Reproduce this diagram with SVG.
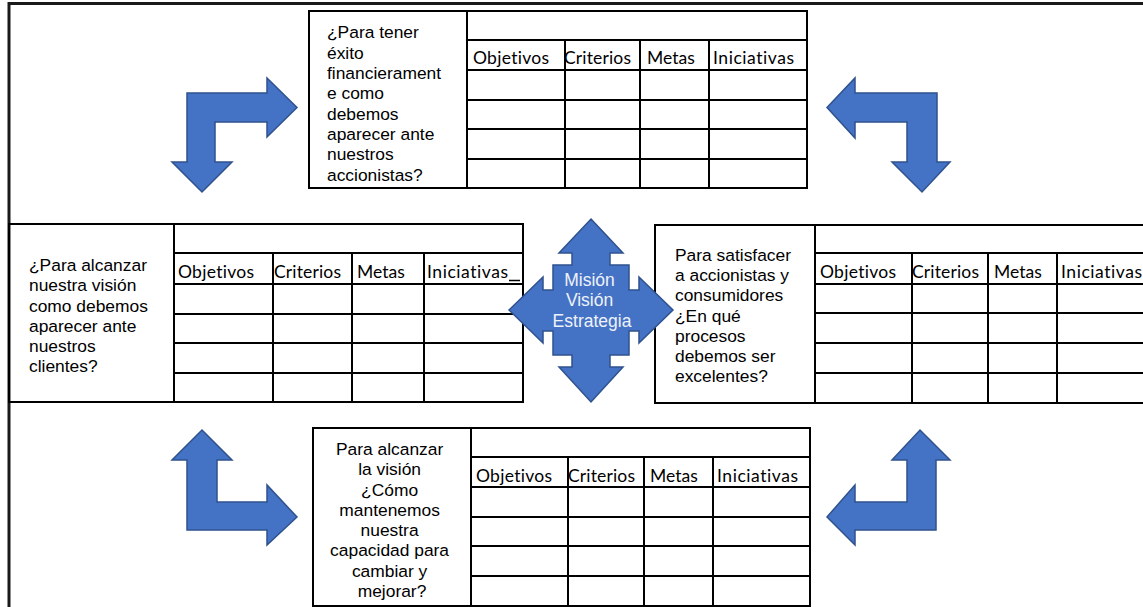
<svg xmlns="http://www.w3.org/2000/svg" width="1143" height="607" viewBox="0 0 1143 607">
  <style>
    .grid { fill: none; stroke: #000; stroke-width: 2; }
    .frame { fill: none; stroke: #1a1a1a; stroke-width: 3; }
    .q { font-family: "Liberation Sans", Arial, sans-serif; font-size: 17.4px; fill: #000; }
    .h { font-family: Lato, "Open Sans", sans-serif; font-size: 17.5px; fill: #000; font-variant-ligatures: none; }
    .arrow { fill: #4472C4; stroke: #2F528F; stroke-width: 1.5; stroke-linejoin: miter; }
    .core { font-family: "Liberation Sans", Arial, sans-serif; font-size: 17.5px; fill: #EEF2FA; text-anchor: middle; }
  </style>

  <rect width="1143" height="607" fill="#fff"/>

  <!-- outer frame: top edge and left edge -->
  <path class="frame" d="M9 607 V3.5 H1143"/>

  <!-- financial perspective -->
  <g id="financiera">
    <rect class="grid" x="309" y="11" width="498" height="177"/>
    <path class="grid" d="M467 11 V188 M467 40 H807 M467 70 H807 M467 100 H807 M467 129 H807 M467 159 H807 M565 40 V188 M640 40 V188 M709 40 V188"/>
    <text class="q">
      <tspan x="327" y="38">¿Para tener</tspan>
      <tspan x="327" y="58.5">éxito</tspan>
      <tspan x="327" y="79">financierament</tspan>
      <tspan x="327" y="99">e como</tspan>
      <tspan x="327" y="119.5">debemos</tspan>
      <tspan x="327" y="140">aparecer ante</tspan>
      <tspan x="327" y="160">nuestros</tspan>
      <tspan x="327" y="180.5">accionistas?</tspan>
    </text>
    <text class="h" x="473" y="64" textLength="76">Objetivos</text>
    <text class="h" x="564" y="64" textLength="67">Criterios</text>
    <text class="h" x="647" y="64">Metas</text>
    <text class="h" x="713" y="64" textLength="81">Iniciativas</text>
  </g>

  <!-- customer perspective -->
  <g id="clientes">
    <rect class="grid" x="9" y="224" width="514" height="178"/>
    <path class="grid" d="M174 224 V402 M174 253 H523 M174 284 H523 M174 314 H523 M174 343 H523 M174 373 H523 M273 253 V402 M352 253 V402 M424 253 V402"/>
    <path d="M509 280.5 H520" stroke="#000" stroke-width="1.5"/>
    <text class="q">
      <tspan x="29" y="271">¿Para alcanzar</tspan>
      <tspan x="29" y="291">nuestra visión</tspan>
      <tspan x="29" y="311.5">como debemos</tspan>
      <tspan x="29" y="331.5">aparecer ante</tspan>
      <tspan x="29" y="351.5">nuestros</tspan>
      <tspan x="29" y="372">clientes?</tspan>
    </text>
    <text class="h" x="178" y="278" textLength="76">Objetivos</text>
    <text class="h" x="274" y="278" textLength="67">Criterios</text>
    <text class="h" x="357" y="278">Metas</text>
    <text class="h" x="427" y="278" textLength="81">Iniciativas</text>
  </g>

  <!-- internal process perspective -->
  <g id="procesos">
    <rect class="grid" x="655" y="225" width="500" height="178"/>
    <path class="grid" d="M815 225 V403 M815 253 H1150 M815 284 H1150 M815 313 H1150 M815 343 H1150 M815 373 H1150 M912 253 V403 M988 253 V403 M1057 253 V403"/>
    <text class="q">
      <tspan x="675" y="261">Para satisfacer</tspan>
      <tspan x="675" y="281">a accionistas y</tspan>
      <tspan x="675" y="301">consumidores</tspan>
      <tspan x="675" y="321.5">¿En qué</tspan>
      <tspan x="675" y="341.5">procesos</tspan>
      <tspan x="675" y="361.5">debemos ser</tspan>
      <tspan x="675" y="382">excelentes?</tspan>
    </text>
    <text class="h" x="820" y="278" textLength="76">Objetivos</text>
    <text class="h" x="912" y="278" textLength="67">Criterios</text>
    <text class="h" x="994" y="278">Metas</text>
    <text class="h" x="1061" y="278" textLength="81">Iniciativas</text>
  </g>

  <!-- learning and growth perspective -->
  <g id="aprendizaje">
    <rect class="grid" x="313" y="428" width="497" height="178"/>
    <path class="grid" d="M471 428 V606 M471 457 H810 M471 487 H810 M471 517 H810 M471 546 H810 M471 576 H810 M568 457 V606 M644 457 V606 M713 457 V606"/>
    <text class="q" text-anchor="middle">
      <tspan x="392" y="455">Para alcanzar</tspan>
      <tspan x="392" y="475">la visión</tspan>
      <tspan x="392" y="495.5">¿Cómo</tspan>
      <tspan x="392" y="515.5">mantenemos</tspan>
      <tspan x="392" y="536">nuestra</tspan>
      <tspan x="392" y="556">capacidad para</tspan>
      <tspan x="392" y="576.5">cambiar y</tspan>
      <tspan x="392" y="597">mejorar?</tspan>
    </text>
    <text class="h" x="476" y="482" textLength="76">Objetivos</text>
    <text class="h" x="568" y="482" textLength="67">Criterios</text>
    <text class="h" x="650" y="482">Metas</text>
    <text class="h" x="717" y="482" textLength="81">Iniciativas</text>
  </g>

  <!-- central node: mission / vision / strategy (four-way arrow) -->
  <g id="centro">
    <path class="arrow" d="M591 219 L623 253 H610 V265 H629 V290 H639 V277 L673 310 L639 343 V331 H629 V355 H610 V367 H623 L591 402 L559 367 H572 V355 H553 V331 H543 V343 L509 310 L543 277 V290 H553 V265 H572 V253 H559 Z"/>
    <text class="core">
      <tspan x="592" y="286">Misión</tspan>
      <tspan x="592" y="306">Visión</tspan>
      <tspan x="592" y="326.5">Estrategia</tspan>
    </text>
  </g>

  <!-- connectors between perspectives -->
  <g id="conectores">
    <path class="arrow" d="M187 93 H267 V78 L297 107.5 L267 137 V122 H215 V162 H232 L202 192 L172 162 H187 Z"/>
    <path class="arrow" d="M937 93 H855 V78 L827 107.5 L855 138 V122 H907 V162 H892 L922 192 L950 162 H937 Z"/>
    <path class="arrow" d="M187 530 H267 V545 L297 517 L267 485 V502 H217 V460 H232 L202 430 L172 460 H187 Z"/>
    <path class="arrow" d="M936 530 H855 V545 L827 517 L855 485 V502 H907 V460 H892 L920 430 L950 460 H936 Z"/>
  </g>
</svg>
